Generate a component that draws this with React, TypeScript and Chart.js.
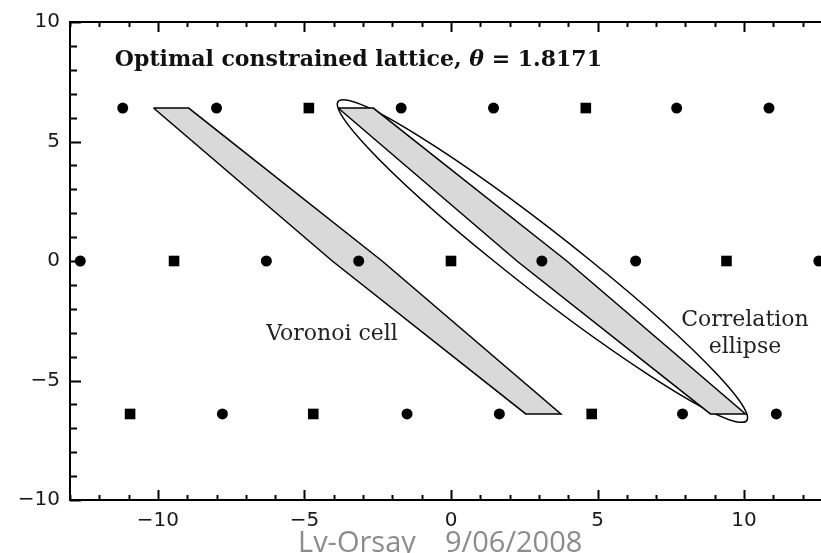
import React, { useEffect, useRef } from 'react';
import { Chart, registerables } from 'chart.js';

Chart.register(...registerables);

// ---- data ----
const X_MIN = -13;
const X_MAX = 13;
const Y_MIN = -10;
const Y_MAX = 10;
const xTickValues = [-10, -5, 0, 5, 10];
const yTickValues = [-10, -5, 0, 5, 10];

const rowTopY = 6.4;
const rowTopX = [-11.2, -8.0, -4.85, -1.7, 1.45, 4.6, 7.7, 10.85];
const rowTopStyle = ['circle', 'circle', 'rect', 'circle', 'circle', 'rect', 'circle', 'circle'];

const rowMidY = 0;
const rowMidX = [-12.65, -9.45, -6.3, -3.15, 0, 3.1, 6.3, 9.4, 12.55];
const rowMidStyle = ['circle', 'rect', 'circle', 'circle', 'rect', 'circle', 'circle', 'rect', 'circle'];

const rowBotY = -6.4;
const rowBotX = [-10.95, -7.8, -4.7, -1.5, 1.65, 4.8, 7.9, 11.1];
const rowBotStyle = ['rect', 'circle', 'rect', 'circle', 'circle', 'rect', 'circle', 'circle'];

const voronoiLeftX = [-10.15, -8.95, -2.35, 3.75, 2.55, -4.05, -10.15];
const voronoiLeftY = [6.4, 6.4, 0, -6.4, -6.4, 0, 6.4];
const voronoiRightX = [-3.85, -2.65, 3.95, 10.05, 8.85, 2.25, -3.85];
const voronoiRightY = [6.4, 6.4, 0, -6.4, -6.4, 0, 6.4];

// correlation ellipse: centre, offset to upper tip, horizontal half-width (data units)
const ellipseCenter = [3.12, 0];
const ellipseTip = [-6.8, 6.75];
const ellipseHalfWidth = [1.66, 0];

const titleText = ['Optimal constrained lattice, ', 'θ', ' = 1.8171'];
const titleAnchor = [-11.47, 8.15];
const voronoiLabel = 'Voronoi cell';
const voronoiAnchor = [-4.06, -3.3];
const corrLabel = ['Correlation', 'ellipse'];
const corrAnchor = [10.03, -2.7, -3.83];
const footer = ['Lv-Orsay', '9/06/2008'];

const fmt = (v: number) => String(v).replace('-', '\u2212');

const pts = (xs: number[], y: number) => xs.map((x) => ({ x, y }));
const poly = (xs: number[], ys: number[]) => xs.map((x, i) => ({ x, y: ys[i] }));

const decorPlugin = {
  id: 'decor',
  beforeDatasetsDraw(chart: any) {
    const { ctx, scales } = chart;
    const xs = scales.x;
    const ys = scales.y;
    const cx = xs.getPixelForValue(ellipseCenter[0]);
    const cy = ys.getPixelForValue(ellipseCenter[1]);
    const ux = xs.getPixelForValue(ellipseCenter[0] + ellipseTip[0]) - cx;
    const uy = ys.getPixelForValue(ellipseCenter[1] + ellipseTip[1]) - cy;
    const vx = xs.getPixelForValue(ellipseCenter[0] + ellipseHalfWidth[0]) - cx;
    const vy = ys.getPixelForValue(ellipseCenter[1] + ellipseHalfWidth[1]) - cy;
    ctx.save();
    ctx.beginPath();
    ctx.save();
    ctx.transform(ux, uy, vx, vy, cx, cy);
    ctx.arc(0, 0, 1, 0, Math.PI * 2);
    ctx.restore();
    ctx.fillStyle = '#ffffff';
    ctx.fill();
    ctx.lineWidth = 1.5;
    ctx.strokeStyle = '#000';
    ctx.stroke();
    ctx.restore();
  },
  afterDatasetsDraw(chart: any) {
    const { ctx, chartArea, scales } = chart;
    const { left, right, top, bottom } = chartArea;
    const xs = scales.x;
    const ys = scales.y;
    ctx.save();
    ctx.strokeStyle = '#000';
    ctx.lineWidth = 2;
    ctx.lineCap = 'butt';
    ctx.strokeRect(left, top, right - left, bottom - top);
    ctx.beginPath();
    for (let v = Math.ceil(xs.min); v <= xs.max; v++) {
      const p = Math.round(xs.getPixelForValue(v)) + 0.5;
      const len = v % 5 === 0 ? 10 : 5;
      ctx.moveTo(p, bottom);
      ctx.lineTo(p, bottom - len);
      ctx.moveTo(p, top);
      ctx.lineTo(p, top + len);
    }
    for (let v = Math.ceil(ys.min); v <= ys.max; v++) {
      const p = Math.round(ys.getPixelForValue(v)) + 0.5;
      const len = v % 5 === 0 ? 11 : 7;
      ctx.moveTo(left, p);
      ctx.lineTo(left + len, p);
      ctx.moveTo(right, p);
      ctx.lineTo(right - len, p);
    }
    ctx.stroke();
    ctx.restore();
  },
  afterDraw(chart: any) {
    const { ctx, scales } = chart;
    const xs = scales.x;
    const ys = scales.y;
    ctx.save();
    // title
    const serif = '"DejaVu Serif", "Liberation Serif", serif';
    const tSize = 22;
    let tx = xs.getPixelForValue(titleAnchor[0]);
    const ty = ys.getPixelForValue(titleAnchor[1]);
    ctx.fillStyle = '#111';
    ctx.textBaseline = 'alphabetic';
    ctx.textAlign = 'left';
    titleText.forEach((part, i) => {
      ctx.font = (i === 1 ? 'italic bold ' : 'bold ') + tSize + 'px ' + serif;
      ctx.fillText(part, tx, ty);
      tx += ctx.measureText(part).width;
    });
    // labels
    ctx.font = '22px ' + serif;
    ctx.fillStyle = '#222';
    ctx.textAlign = 'center';
    ctx.fillText(voronoiLabel, xs.getPixelForValue(voronoiAnchor[0]), ys.getPixelForValue(voronoiAnchor[1]));
    ctx.fillText(corrLabel[0], xs.getPixelForValue(corrAnchor[0]), ys.getPixelForValue(corrAnchor[1]));
    ctx.fillText(corrLabel[1], xs.getPixelForValue(corrAnchor[0]), ys.getPixelForValue(corrAnchor[2]));
    // footer
    ctx.font = '29px "Open Sans", Lato, sans-serif';
    ctx.fillStyle = '#8c8c8c';
    ctx.textAlign = 'left';
    ctx.fillText(footer[0], 298, 552);
    ctx.fillText(footer[1], 445, 552);
    ctx.restore();
  },
};

export default function App() {
  const ref = useRef<HTMLCanvasElement>(null);
  useEffect(() => {
    const tickFont = { family: '"DejaVu Sans", sans-serif', size: 20 };
    const chart = new Chart(ref.current as HTMLCanvasElement, {
      type: 'scatter',
      data: {
        datasets: [
          {
            type: 'line',
            data: poly(voronoiLeftX, voronoiLeftY),
            borderColor: '#000',
            borderWidth: 1.5,
            backgroundColor: '#d9d9d9',
            fill: 'shape',
            pointRadius: 0,
            tension: 0,
            order: 2,
          } as any,
          {
            type: 'line',
            data: poly(voronoiRightX, voronoiRightY),
            borderColor: '#000',
            borderWidth: 1.5,
            backgroundColor: '#d9d9d9',
            fill: 'shape',
            pointRadius: 0,
            tension: 0,
            order: 2,
          } as any,
          {
            data: pts(rowTopX, rowTopY),
            pointStyle: rowTopStyle as any,
            pointRadius: rowTopStyle.map((s) => (s === 'rect' ? 7.5 : 5.5)),
            backgroundColor: '#000',
            borderColor: '#000',
            borderWidth: 0,
            order: 0,
          },
          {
            data: pts(rowMidX, rowMidY),
            pointStyle: rowMidStyle as any,
            pointRadius: rowMidStyle.map((s) => (s === 'rect' ? 7.5 : 5.5)),
            backgroundColor: '#000',
            borderColor: '#000',
            borderWidth: 0,
            order: 0,
          },
          {
            data: pts(rowBotX, rowBotY),
            pointStyle: rowBotStyle as any,
            pointRadius: rowBotStyle.map((s) => (s === 'rect' ? 7.5 : 5.5)),
            backgroundColor: '#000',
            borderColor: '#000',
            borderWidth: 0,
            order: 0,
          },
        ],
      },
      options: {
        responsive: false,
        animation: false,
        devicePixelRatio: 1,
        layout: { padding: { top: 20, right: 18, left: 0, bottom: 0 } },
        plugins: { legend: { display: false }, tooltip: { enabled: false } },
        scales: {
          x: {
            type: 'linear',
            min: X_MIN,
            max: X_MAX,
            border: { display: false },
            grid: { display: false, drawTicks: false },
            afterBuildTicks: (s: any) => {
              s.ticks = xTickValues.map((value) => ({ value }));
            },
            afterFit: (s: any) => {
              s.height = 53;
            },
            ticks: {
              callback: (v: any) => fmt(Number(v)),
              font: tickFont,
              color: '#1a1a1a',
              padding: 9,
              maxRotation: 0,
              autoSkip: false,
            },
          },
          y: {
            type: 'linear',
            min: Y_MIN,
            max: Y_MAX,
            border: { display: false },
            grid: { display: false, drawTicks: false },
            afterBuildTicks: (s: any) => {
              s.ticks = yTickValues.map((value) => ({ value }));
            },
            afterFit: (s: any) => {
              s.width = 70;
            },
            ticks: {
              callback: (v: any) => fmt(Number(v)),
              font: tickFont,
              color: '#1a1a1a',
              padding: 10,
              autoSkip: false,
            },
          },
        },
      } as any,
      plugins: [decorPlugin],
    });
    return () => chart.destroy();
  }, []);
  return (
    <div
      style={{
        position: 'absolute',
        left: 0,
        top: 0,
        width: 821,
        height: 553,
        overflow: 'hidden',
        background: '#fff',
      }}
    >
      <canvas ref={ref} width={850} height={553} style={{ display: 'block', width: 850, height: 553 }} />
    </div>
  );
}
